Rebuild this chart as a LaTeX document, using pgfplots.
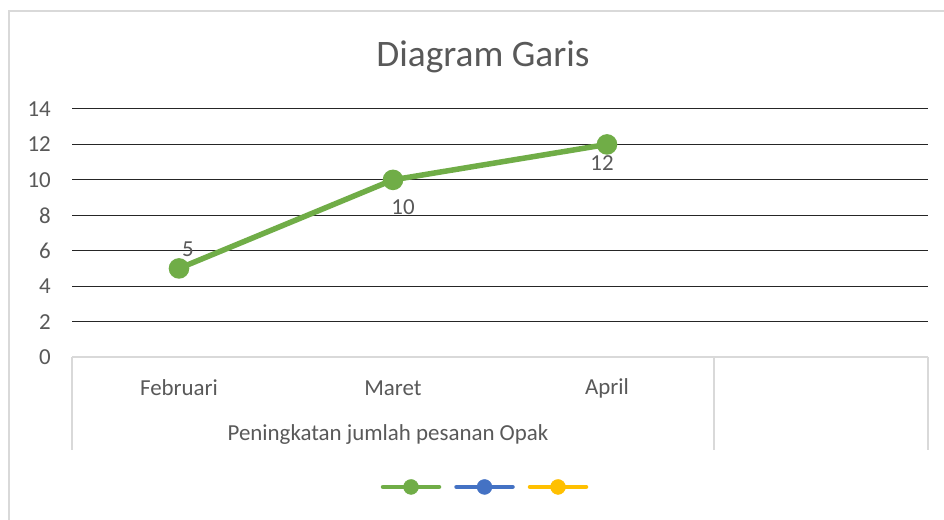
\documentclass[border=0pt]{standalone}
\usepackage{pgfplots}
\pgfplotsset{compat=1.18}
\usepackage{fontspec}
\setmainfont{Carlito}
\definecolor{txt}{HTML}{595959}
\definecolor{grn}{HTML}{70AD47}
\definecolor{blu}{HTML}{4472C4}
\definecolor{ylw}{HTML}{FFC000}
\definecolor{brd}{HTML}{D9D9D9}
\begin{document}
\begin{tikzpicture}
\path[use as bounding box] (0,0) rectangle (944bp,520bp);
\fill[white] (0,0) rectangle (944bp,520bp);
\draw[brd, line width=2bp] (9bp,-5bp) -- (9bp,509bp) -- (960bp,509bp);
\node[txt, font=\fontsize{37.5}{42}\selectfont, anchor=base] at (483bp,453bp) {Diagram Garis};
\begin{axis}[
  at={(72bp,163bp)}, anchor=south west,
  scale only axis, width=856bp, height=248bp,
  xmin=-0.5, xmax=3.5, ymin=0, ymax=14,
  axis line style={draw=none},
  xtick={0,1,2,3}, xticklabels={Februari,Maret,April,{}},
  ytick={2,4,...,14}, extra y ticks={0}, extra y tick style={grid=none},
  ymajorgrids, grid style={black!85, line width=1bp},
  major tick length=0pt,
  /pgf/number format/assume math mode=true,
  tick label style={txt, font=\fontsize{23}{26}\selectfont},
  xticklabel style={anchor=center, yshift=-31bp},
  yticklabel style={anchor=east, inner sep=0pt, xshift=-21bp},
  legend columns=3,
  legend style={draw=none, fill=none, at={(0.4825,-0.524)}, anchor=center,
    nodes={inner sep=0pt},
    /tikz/every even column/.append style={column sep=12bp}},
  clip=false,
]
\draw[brd, line width=1.5bp] (axis cs:-0.5,0) -- (axis cs:3.5,0);
\draw[brd, line width=1.5bp] (axis cs:-0.5,0) -- ([yshift=-93bp]axis cs:-0.5,0);
\draw[brd, line width=1.5bp] (axis cs:2.5,0) -- ([yshift=-93bp]axis cs:2.5,0);
\draw[brd, line width=1.5bp] (axis cs:3.5,0) -- ([yshift=-93bp]axis cs:3.5,0);
\node[txt, font=\fontsize{23}{26}\selectfont] at (axis cs:1,0) [yshift=-78bp, xshift=-5bp] {Peningkatan jumlah pesanan Opak};
\addplot[grn, line width=5.5bp, mark=*, mark size=7.5bp, mark options={fill=grn, draw=none},
  nodes near coords,
  every node near coord/.append style={txt, font=\fontsize{23}{26}\selectfont, anchor=center},
  coordinate style/.condition={\coordindex==0}{xshift=9bp, yshift=19bp},
  coordinate style/.condition={\coordindex==1}{xshift=10bp, yshift=-27bp},
  coordinate style/.condition={\coordindex==2}{xshift=-5bp, yshift=-19bp},
  forget plot] coordinates {(0,5) (1,10) (2,12)};
\addlegendimage{legend image code/.code={\draw[grn, line width=4.5bp, line cap=round] (0bp,0bp) -- (56bp,0bp); \fill[grn] (28bp,0bp) circle (7.5bp);}}
\addlegendentry{}
\addlegendimage{legend image code/.code={\draw[blu, line width=4.5bp, line cap=round] (0bp,0bp) -- (56bp,0bp); \fill[blu] (28bp,0bp) circle (7.5bp);}}
\addlegendentry{}
\addlegendimage{legend image code/.code={\draw[ylw, line width=4.5bp, line cap=round] (0bp,0bp) -- (56bp,0bp); \fill[ylw] (28bp,0bp) circle (7.5bp);}}
\addlegendentry{}
\end{axis}
\end{tikzpicture}
\end{document}
